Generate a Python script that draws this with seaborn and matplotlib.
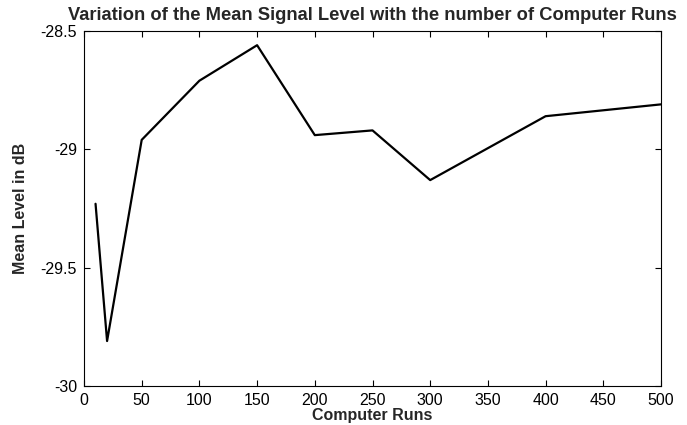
import matplotlib
matplotlib.use("Agg")
import matplotlib.pyplot as plt
import seaborn as sns
import pandas as pd

runs = [10, 20, 50, 100, 150, 200, 250, 300, 400, 500]
mean_level = [-29.23, -29.81, -28.96, -28.71, -28.56, -28.94, -28.92, -29.13, -28.86, -28.81]
x_ticks = [0, 50, 100, 150, 200, 250, 300, 350, 400, 450, 500]
y_ticks = [-30, -29.5, -29, -28.5]
y_tick_labels = ["-30", "-29.5", "-29", "-28.5"]

sns.set_style("ticks")
plt.rcParams['font.family'] = ['Liberation Sans', 'DejaVu Sans']

df = pd.DataFrame({"Computer Runs": runs, "Mean Level in dB": mean_level})

fig = plt.figure(figsize=(6.87, 4.25), dpi=100)
ax = fig.add_axes([84/687, 1-386/425, (661-84)/687, (386-31)/425])
sns.lineplot(data=df, x="Computer Runs", y="Mean Level in dB", ax=ax,
             color="black", linewidth=1.6)

ax.set_xlim(0, 500)
ax.set_ylim(-30, -28.5)
ax.set_xticks(x_ticks)
ax.set_xticklabels([str(t) for t in x_ticks])
ax.set_yticks(y_ticks)
ax.set_yticklabels(y_tick_labels)
ax.tick_params(direction="in", top=True, right=True, length=4, width=0.8,
               labelsize=11.5, colors="black")
ax.tick_params(axis="x", pad=5)
ax.tick_params(axis="y", pad=5)
for s in ax.spines.values():
    s.set_visible(True)
    s.set_color("black")
    s.set_linewidth(0.8)

ax.set_xlabel("Computer Runs", fontsize=11.5, fontweight="bold", labelpad=0)
ax.set_ylabel("Mean Level in dB", fontsize=11.5, fontweight="bold", labelpad=9)
ax.set_title("Variation of the Mean Signal Level with the number of Computer Runs",
             fontsize=13.2, fontweight="bold", pad=8)

fig.savefig("out.png", dpi=100)
